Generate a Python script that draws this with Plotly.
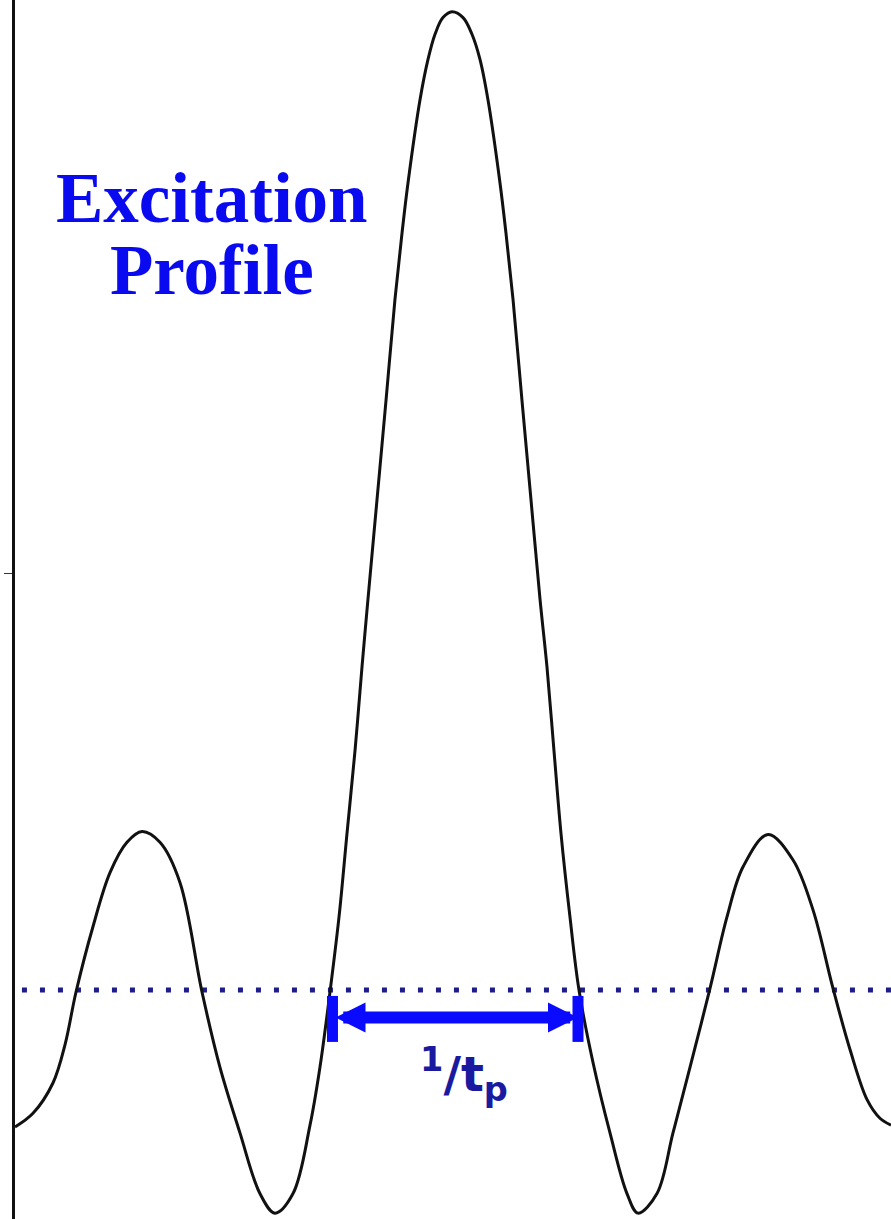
import plotly.graph_objects as go

# Excitation profile.
# frequency offset in units of 1/tp, amplitude normalised to the main peak
freq = [-3.540, -3.395, -3.234, -3.137, -3.048, -2.911, -2.774, -2.637, -2.516, -2.371, -2.210,
        -2.032, -1.887, -1.726, -1.565, -1.444, -1.298, -1.161, -1.081, -1.000, -0.927,
        -0.863, -0.798, -0.742, -0.694, -0.621, -0.548, -0.476, -0.419, -0.371, -0.274,
        -0.210, -0.153, -0.089, -0.016, 0.073, 0.145, 0.210, 0.274, 0.371, 0.419,
        0.476, 0.548, 0.621, 0.694, 0.750, 0.806, 0.863, 0.935, 1.008, 1.121,
        1.258, 1.395, 1.484, 1.637, 1.766, 1.903, 2.065, 2.202, 2.331, 2.532,
        2.734, 2.895, 3.056, 3.194, 3.331, 3.435, 3.524]
amplitude = [-0.140, -0.126, -0.095, -0.056, -0.002, 0.065, 0.120, 0.151, 0.162, 0.151, 0.110,
             -0.002, -0.079, -0.146, -0.208, -0.228, -0.208, -0.138, -0.079, -0.002, 0.075,
             0.160, 0.245, 0.330, 0.399, 0.501, 0.603, 0.706, 0.774, 0.825, 0.910,
             0.951, 0.977, 0.994, 1.000, 0.994, 0.977, 0.951, 0.910, 0.825, 0.774,
             0.706, 0.603, 0.501, 0.399, 0.330, 0.245, 0.160, 0.075, 0.000, -0.074,
             -0.146, -0.208, -0.228, -0.208, -0.146, -0.079, 0.002, 0.075, 0.126, 0.159,
             0.133, 0.082, 0.002, -0.061, -0.112, -0.131, -0.138]

baseline_level = 0.0
baseline_start = -3.484
arrow_left = -0.98
arrow_right = 1.0
arrow_level = -0.028
bar_top = -0.006
bar_bottom = -0.053
label_level = -0.086
left_tick = [0.426]

title_lines = ["Excitation", "Profile"]
arrow_label = "<b><sup>1</sup>/t<sub>p</sub></b>"

x_range = [-3.661, 3.524]
y_range = [-0.234, 1.012]

fig = go.Figure()

# dotted baseline
fig.add_trace(go.Scatter(
    x=[baseline_start, x_range[1]], y=[baseline_level, baseline_level],
    mode="lines", line=dict(color="#1c1c8c", width=5, dash="5px,13px"),
    hoverinfo="skip", showlegend=False))

# profile curve
fig.add_trace(go.Scatter(
    x=freq, y=amplitude, mode="lines",
    line=dict(color="#111111", width=3, shape="spline", smoothing=1.0),
    showlegend=False))

# end bars of the width marker
for xb in (arrow_left, arrow_right):
    fig.add_shape(type="line", xref="x", yref="y", x0=xb, x1=xb,
                  y0=bar_top, y1=bar_bottom,
                  line=dict(color="#0a0aff", width=11))

# double headed arrow
fig.add_annotation(x=arrow_right, y=arrow_level, ax=arrow_left, ay=arrow_level,
                   xref="x", yref="y", axref="x", ayref="y", text=" ",
                   showarrow=True, arrowhead=2, startarrowhead=2,
                   arrowside="end+start", arrowsize=0.5, startarrowsize=0.5,
                   arrowwidth=12, arrowcolor="#0a0aff")

fig.add_annotation(x=(arrow_left + arrow_right) / 2 + 0.07, y=label_level,
                   xref="x", yref="y", text=arrow_label, showarrow=False,
                   font=dict(family="DejaVu Sans", size=48, color="#1a1aa0"),
                   xanchor="center", yanchor="middle")

# title
title_y = [1 - 198 / 1219, 1 - 270 / 1219]
for line, yy in zip(title_lines, title_y):
    fig.add_annotation(x=212 / 891, y=yy, xref="paper", yref="paper",
                       text="<b>" + line + "</b>", showarrow=False,
                       font=dict(family="Liberation Serif", size=71, color="#0a0af0"),
                       xanchor="center", yanchor="middle")

fig.update_layout(
    width=891, height=1219,
    margin=dict(l=0, r=0, t=0, b=0),
    paper_bgcolor="white", plot_bgcolor="white",
    xaxis=dict(range=x_range, visible=False, fixedrange=True),
    yaxis=dict(range=y_range, showgrid=False, zeroline=False,
               showticklabels=False, anchor="free", position=13 / 891,
               showline=True, linecolor="#111111", linewidth=3,
               ticks="outside", ticklen=8, tickwidth=1, tickcolor="#333333",
               tickvals=left_tick, fixedrange=True),
)

fig.write_html("out.html",
               config={"displayModeBar": False, "staticPlot": True},
               post_script="document.body.style.margin='0';"
                           "document.body.style.overflow='hidden';")
